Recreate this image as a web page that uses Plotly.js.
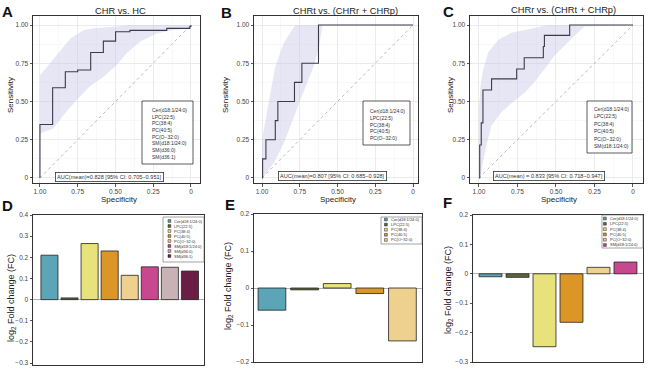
<!DOCTYPE html>
<html><head><meta charset="utf-8">
<script src="https://cdn.plot.ly/plotly-3.0.1.min.js"></script>
<style>html,body{margin:0;padding:0;background:#fff}#chart{width:650px;height:369px}</style>
</head><body><div id="chart"></div>
<script>
// ---------- DATA ----------
// ROC step curves: specificity (x, reversed) and sensitivity (y)
const rocA_spec = [1, 1, 0.916, 0.832, 0.75, 0.664, 0.58, 0.499, 0.404, 0.16, 0.007, 0];
const rocA_sens = [0, 0.35, 0.59, 0.694, 0.706, 0.82, 0.895, 0.956, 0.965, 0.978, 0.99, 1];
const rocB_spec = [1, 0.996, 0.974, 0.912, 0.895, 0.785, 0.736, 0.626, 0];
const rocB_sens = [0, 0.125, 0.25, 0.375, 0.5, 0.625, 0.75, 1, 1];
const rocC_spec = [1, 0.995, 0.985, 0.974, 0.918, 0.755, 0.706, 0.582, 0.575, 0.411, 0];
const rocC_sens = [0, 0.215, 0.36, 0.575, 0.648, 0.712, 0.786, 0.86, 0.932, 1, 1];

// 95% CI bands
const bandA_upSpec = [1, 0.934, 0.868, 0.80, 0.71, 0.625, 0.49, 0.40, 0];
const bandA_upSens = [0.67, 0.75, 0.826, 0.91, 0.967, 0.98, 0.99, 1, 1];
const bandA_loSpec = [1, 0.91, 0.845, 0.757, 0.67, 0.58, 0.49, 0.426, 0.338, 0.227, 0.117, 0.007, 0];
const bandA_loSens = [0.29, 0.325, 0.41, 0.51, 0.6, 0.66, 0.74, 0.815, 0.89, 0.945, 0.967, 0.978, 0.99];
const bandB_upSpec = [1, 0.956, 0.912, 0.857, 0.78, 0];
const bandB_upSens = [0.25, 0.5, 0.73, 0.88, 1, 1];
const bandB_loSpec = [1, 0.92, 0.846, 0.75, 0.65, 0.62, 0.60, 0];
const bandB_loSens = [0, 0.1, 0.25, 0.5, 0.75, 0.87, 1, 1];
const bandC_upSpec = [1, 0.99, 0.975, 0.94, 0.877, 0.79, 0.64, 0.55, 0];
const bandC_upSens = [0.45, 0.6, 0.7, 0.82, 0.9, 0.95, 0.98, 1, 1];
const bandC_loSpec = [1, 0.99, 0.952, 0.92, 0.855, 0.768, 0.70, 0.64, 0.574, 0.509, 0.444, 0.38, 0.314, 0];
const bandC_loSens = [0, 0.02, 0.21, 0.34, 0.43, 0.506, 0.56, 0.625, 0.712, 0.8, 0.864, 0.93, 0.99, 1];

const specTicks = [1, 0.75, 0.5, 0.25, 0];
const specTickText = ['1.00', '0.75', '0.50', '0.25', '0'];
const sensTicks = [0, 0.25, 0.5, 0.75, 1];
const sensTickText = ['0', '0.25', '0.50', '0.75', '1.00'];

const rocTitles = ['CHR vs. HC', 'CHRt vs. (CHRr + CHRp)', 'CHRr vs. (CHRt + CHRp)'];
const aucTexts = ['AUC(mean)=0.828 [95% CI: 0.705\u22120.951]',
                  'AUC(mean)=0.807 [95% CI: 0.685\u22120.928]',
                  'AUC(mean) = 0.833 [95% CI: 0.718\u22120.947]'];
const rocLabelsA = ['Cer(d18:1/24:0)', 'LPC(22:5)', 'PC(38:4)', 'PC(40:5)', 'PC(O\u221232:0)', 'SM(d18:1/24:0)', 'SM(d36:0)', 'SM(d36:1)'];
const rocLabelsB = ['Cer(d18:1/24:0)', 'LPC(22:5)', 'PC(38:4)', 'PC(40:5)', 'PC(O\u221232:0)'];
const rocLabelsC = ['Cer(d18:1/24:0)', 'LPC(22:5)', 'PC(38:4)', 'PC(40:5)', 'PC(O\u221232:0)', 'SM(d18:1/24:0)'];

// Fold-change bars
const catsD = ['Cer(d18:1/24:0)', 'LPC(22:5)', 'PC(38:4)', 'PC(40:5)', 'PC(O\u221232:0)', 'SM(d18:1/24:0)', 'SM(d36:0)', 'SM(d36:1)'];
const valsD = [0.21, 0.008, 0.265, 0.23, 0.115, 0.155, 0.153, 0.135];
const catsE = ['Cer(d18:1/24:0)', 'LPC(22:5)', 'PC(38:4)', 'PC(40:5)', 'PC(O\u221232:0)'];
const valsE = [-0.06, -0.005, 0.012, -0.015, -0.143];
const catsF = ['Cer(d18:1/24:0)', 'LPC(22:5)', 'PC(38:4)', 'PC(40:5)', 'PC(O\u221232:0)', 'SM(d18:1/24:0)'];
const valsF = [-0.01, -0.012, -0.248, -0.165, 0.022, 0.04];

const colorMap = {
  'Cer(d18:1/24:0)': '#5ba5b6', 'LPC(22:5)': '#5b6a3b', 'PC(38:4)': '#e8e27c',
  'PC(40:5)': '#dc9628', 'PC(O\u221232:0)': '#eed08f', 'SM(d18:1/24:0)': '#c8488f',
  'SM(d36:0)': '#c9b2b5', 'SM(d36:1)': '#6a1d45'
};

// ---------- LAYOUT GEOMETRY (pixels) ----------
const W = 650, H = 369;
const PX = x => x / W, PY = y => 1 - y / H;
const FONT = 'Liberation Sans, Arial, sans-serif';

const rocBoxes = [
  {x0: 33, x1: 200, y0: 16, y1: 183, xr: [1.046, -0.06]},
  {x0: 254, x1: 418, y0: 16, y1: 183, xr: [1.053, -0.033]},
  {x0: 470, x1: 643, y0: 16, y1: 183, xr: [1.058, -0.065]}
];
const barBoxes = [
  {x0: 33, x1: 204, y0: 215, y1: 365, yr: [-0.309, 0.4], xr: [-0.82, 7.7]},
  {x0: 254, x1: 422, y0: 214, y1: 362, yr: [-0.2, 0.2], xr: [-0.55, 4.6]},
  {x0: 473, x1: 643, y0: 215, y1: 362, yr: [-0.3, 0.2], xr: [-0.65, 5.65]}
];

const traces = [];
const layout = {
  width: W, height: H, margin: {l: 0, r: 0, t: 0, b: 0},
  paper_bgcolor: '#fff', plot_bgcolor: '#fff', showlegend: false,
  font: {family: FONT, color: '#333'}, barmode: 'overlay',
  annotations: [], shapes: []
};
const ann = a => layout.annotations.push(Object.assign({showarrow: false, xref: 'paper', yref: 'paper', font: {family: FONT, size: 7, color: '#333'}}, a));

const rocData = [
  [rocA_spec, rocA_sens, bandA_upSpec, bandA_upSens, bandA_loSpec, bandA_loSens, rocLabelsA],
  [rocB_spec, rocB_sens, bandB_upSpec, bandB_upSens, bandB_loSpec, bandB_loSens, rocLabelsB],
  [rocC_spec, rocC_sens, bandC_upSpec, bandC_upSens, bandC_loSpec, bandC_loSens, rocLabelsC]
];
const legBoxes = [
  {x0: 142, x1: 193, y0: 101, y1: 164, tx: 150, first: 110, step: 6.7},
  {x0: 363, x1: 410, y0: 101, y1: 145, tx: 368, first: 111, step: 6.8},
  {x0: 587, x1: 632, y0: 101, y1: 153, tx: 592, first: 109, step: 7.4}
];
const aucPos = [{x: 109, y: 177}, {x: 332.5, y: 175.5}, {x: 548.5, y: 176}];
const titlePos = [{x: 120, y: 11}, {x: 345, y: 11}, {x: 563, y: 10}];
const letters = [['A', 7.5, 12], ['B', 226, 13], ['C', 448, 12], ['D', 7.5, 205], ['E', 230, 204], ['F', 447, 202]];
const sensTitleX = [11, 226, 451];
const fcTitleX = [11, 228, 448];
const fcTitleY = [298, 286, 290];

rocData.forEach((d, i) => {
  const n = i + 1, xa = n === 1 ? 'x' : 'x' + n, ya = n === 1 ? 'y' : 'y' + n;
  const b = rocBoxes[i];
  const [spec, sens, uS, uV, lS, lV, labels] = d;
  traces.push({x: uS.concat(lS.slice().reverse()), y: uV.concat(lV.slice().reverse()), mode: 'lines',
    fill: 'toself', fillcolor: 'rgba(195,195,232,0.42)', line: {width: 0}, xaxis: xa, yaxis: ya, hoverinfo: 'skip'});
  traces.push({x: [1, 0], y: [0, 1], mode: 'lines', line: {color: '#a8a8a8', width: 0.8, dash: 'dot'}, xaxis: xa, yaxis: ya});
  traces.push({x: spec, y: sens, mode: 'lines', line: {shape: 'hv', color: '#3b3b4a', width: 1.1}, xaxis: xa, yaxis: ya});
  layout['xaxis' + (n === 1 ? '' : n)] = {
    domain: [PX(b.x0), PX(b.x1)], anchor: ya, range: b.xr,
    tickvals: specTicks, ticktext: specTickText, ticks: 'outside', ticklen: 2.5, tickcolor: '#555',
    tickfont: {size: 6.5, color: '#444'}, showline: true, mirror: true, linecolor: '#333', linewidth: 1,
    showgrid: true, gridcolor: '#e3e3e3', gridwidth: 0.7, zeroline: false,
    minor: {tickvals: [0.875, 0.625, 0.375, 0.125], showgrid: true, gridcolor: '#f1f1f1', gridwidth: 0.5}
  };
  layout['yaxis' + (n === 1 ? '' : n)] = {
    domain: [PY(b.y1), PY(b.y0)], anchor: xa, range: [-0.033, 1.059],
    tickvals: sensTicks, ticktext: sensTickText, ticks: 'outside', ticklen: 2.5, tickcolor: '#555',
    tickfont: {size: 6.5, color: '#444'}, showline: true, mirror: true, linecolor: '#333', linewidth: 1,
    showgrid: true, gridcolor: '#e3e3e3', gridwidth: 0.7, zeroline: false,
    minor: {tickvals: [0.125, 0.375, 0.625, 0.875], showgrid: true, gridcolor: '#f1f1f1', gridwidth: 0.5}
  };
  // title
  ann({x: PX(titlePos[i].x), y: PY(titlePos[i].y), text: rocTitles[i], font: {family: FONT, size: 9.3, color: '#222'}, xanchor: 'center', yanchor: 'middle'});
  // axis titles
  ann({x: PX((b.x0 + b.x1) / 2 + 2), y: PY(200), text: 'Specificity', font: {family: FONT, size: 8, color: '#222'}, xanchor: 'center', yanchor: 'middle'});
  ann({x: PX(sensTitleX[i]), y: PY(95), text: 'Sensitivity', textangle: -90, font: {family: FONT, size: 8, color: '#222'}, xanchor: 'center', yanchor: 'middle'});
  // AUC box
  ann({x: PX(aucPos[i].x), y: PY(aucPos[i].y), text: aucTexts[i], font: {family: FONT, size: 5.6, color: '#333'},
    bordercolor: '#333', borderwidth: 0.8, borderpad: 1.2, bgcolor: '#fff', xanchor: 'center', yanchor: 'middle'});
  // label box
  const lb = legBoxes[i];
  layout.shapes.push({type: 'rect', xref: 'paper', yref: 'paper', x0: PX(lb.x0), x1: PX(lb.x1), y0: PY(lb.y1), y1: PY(lb.y0),
    line: {color: '#333', width: 0.8}, fillcolor: '#fff'});
  labels.forEach((t, k) => ann({x: PX(lb.tx), y: PY(lb.first + k * lb.step), text: t, font: {family: FONT, size: 5, color: '#333'}, xanchor: 'left', yanchor: 'middle'}));
});

const barData = [[catsD, valsD], [catsE, valsE], [catsF, valsF]];
const barLeg = [
  {x0: 163, x1: 204, y0: 217, y1: 262, sq: 168, tx: 172, first: 221, step: 5},
  {x0: 381, x1: 422, y0: 217, y1: 244, sq: 384.5, tx: 389, first: 219.5, step: 5.1},
  {x0: 602, x1: 643, y0: 215, y1: 248, sq: 603.5, tx: 608, first: 218.5, step: 5.3}
];
barData.forEach((d, i) => {
  const n = i + 4, xa = 'x' + n, ya = 'y' + n;
  const b = barBoxes[i];
  const [cats, vals] = d;
  cats.forEach((c, k) => traces.push({type: 'bar', x: [c], y: [vals[k]], width: 0.85, xaxis: xa, yaxis: ya,
    marker: {color: colorMap[c], line: {color: '#222', width: 0.8}}}));
  layout['xaxis' + n] = {domain: [PX(b.x0), PX(b.x1)], anchor: ya, type: 'category', categoryarray: cats, categoryorder: 'array',
    range: b.xr, showticklabels: false, ticks: '', showgrid: false, zeroline: false,
    showline: true, mirror: true, linecolor: '#333', linewidth: 1};
  layout['yaxis' + n] = {domain: [PY(b.y1), PY(b.y0)], anchor: xa, range: b.yr, dtick: 0.1, tick0: 0,
    ticks: 'outside', ticklen: 2.5, tickcolor: '#555', tickfont: {size: 6.5, color: '#444'},
    showgrid: false, zeroline: true, zerolinecolor: '#b0b0b0', zerolinewidth: 1,
    showline: true, mirror: true, linecolor: '#333', linewidth: 1};
  ann({x: PX(fcTitleX[i]), y: PY(fcTitleY[i]), text: 'log<sub>2</sub> Fold change (FC)', textangle: -90,
    font: {family: FONT, size: 9, color: '#222'}, xanchor: 'center', yanchor: 'middle'});
  const lg = barLeg[i];
  layout.shapes.push({type: 'rect', xref: 'paper', yref: 'paper', x0: PX(lg.x0), x1: PX(lg.x1), y0: PY(lg.y1), y1: PY(lg.y0),
    line: {color: '#666', width: 0.6}, fillcolor: '#fff'});
  cats.forEach((c, k) => {
    const yc = lg.first + k * lg.step;
    layout.shapes.push({type: 'rect', xref: 'paper', yref: 'paper', x0: PX(lg.sq), x1: PX(lg.sq + 2.8), y0: PY(yc + 1.4), y1: PY(yc - 1.4),
      line: {color: '#222', width: 0.5}, fillcolor: colorMap[c]});
    ann({x: PX(lg.tx), y: PY(yc), text: c, font: {family: FONT, size: 4, color: '#333'}, xanchor: 'left', yanchor: 'middle'});
  });
});

letters.forEach(l => ann({x: PX(l[1]), y: PY(l[2]), text: '<b>' + l[0] + '</b>', font: {family: FONT, size: 15, color: '#111'}, xanchor: 'center', yanchor: 'middle'}));

Plotly.newPlot('chart', traces, layout, {staticPlot: true});
</script></body></html>
